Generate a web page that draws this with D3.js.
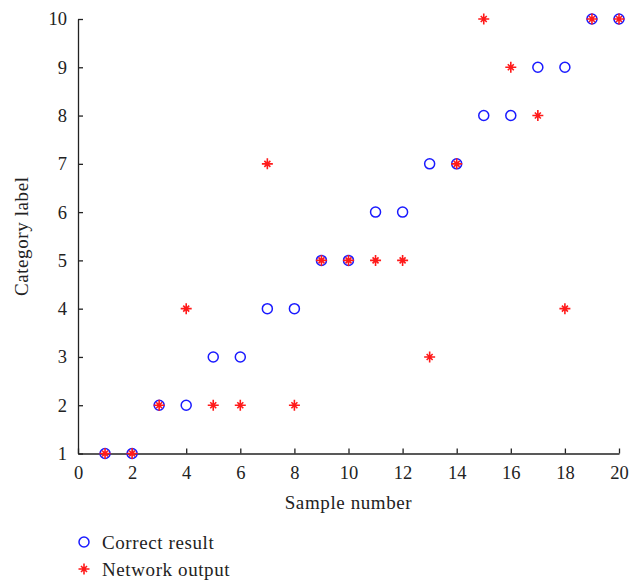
<!DOCTYPE html>
<html>
<head>
<meta charset="utf-8">
<script src="https://cdn.jsdelivr.net/npm/d3@7"></script>
<style>
  html, body { margin: 0; padding: 0; background: #fff; }
  svg { display: block; }
  text { font-family: "Liberation Serif", "DejaVu Serif", serif; fill: #222; }
</style>
</head>
<body>
<svg id="chart" width="631" height="582"></svg>
<script>
// Sample index 1..20
const samples = [1,2,3,4,5,6,7,8,9,10,11,12,13,14,15,16,17,18,19,20];
// Expected class of each sample
const correctResult = [1,1,2,2,3,3,4,4,5,5,6,6,7,7,8,8,9,9,10,10];
// Class predicted by the network
const networkOutput = [1,1,2,4,2,2,7,2,5,5,5,5,3,7,10,9,8,4,10,10];
const xTicks = [0,2,4,6,8,10,12,14,16,18,20];
const yTicks = [1,2,3,4,5,6,7,8,9,10];

const svg = d3.select("#chart");
const plotLeft = 78, plotRight = 619, plotTop = 19, plotBottom = 453.5;
const labelFont = 19, tickFont = 18.5;

const x = d3.scaleLinear().domain([0, 20]).range([plotLeft, plotRight]);
const y = d3.scaleLinear().domain([1, 10]).range([plotBottom, plotTop]);

// Axes with inward-pointing ticks
const xAxis = d3.axisBottom(x).tickValues(xTicks).tickSizeInner(-5).tickSizeOuter(0).tickPadding(12);
const yAxis = d3.axisLeft(y).tickValues(yTicks).tickSizeInner(-5).tickSizeOuter(0).tickPadding(12);

const gx = svg.append("g").attr("transform", `translate(0,${plotBottom})`).call(xAxis);
const gy = svg.append("g").attr("transform", `translate(${plotLeft},0)`).call(yAxis);
[gx, gy].forEach(g => {
  g.select(".domain").attr("stroke", "#222").attr("stroke-width", 1.3);
  g.selectAll(".tick line").attr("stroke", "#222").attr("stroke-width", 1.3);
  g.selectAll(".tick text").attr("font-size", tickFont).attr("fill", "#222")
    .attr("font-family", '"Liberation Serif", "DejaVu Serif", serif');
});
gx.selectAll(".tick text").attr("dy", "0.71em").attr("y", 12);
gy.selectAll(".tick text").attr("x", -11);

// Axis titles
svg.append("text").attr("x", (plotLeft + plotRight) / 2).attr("y", 509)
  .attr("text-anchor", "middle").attr("font-size", labelFont)
  .attr("letter-spacing", 0.6).text("Sample number");
svg.append("text").attr("transform", `translate(28,${(plotTop + plotBottom) / 2}) rotate(-90)`)
  .attr("text-anchor", "middle").attr("font-size", labelFont)
  .attr("letter-spacing", 0.6).text("Category label");

// Star marker path (plus + short diagonals)
function starPath(cx, cy) {
  const a = 5.5, d = 3;
  return `M${cx - a},${cy}L${cx + a},${cy}M${cx},${cy - a}L${cx},${cy + a}` +
         `M${cx - d},${cy - d}L${cx + d},${cy + d}M${cx - d},${cy + d}L${cx + d},${cy - d}`;
}

const plot = svg.append("g");
plot.selectAll("circle.correct").data(samples).enter().append("circle")
  .attr("class", "correct")
  .attr("cx", (s) => x(s))
  .attr("cy", (s, i) => y(correctResult[i]))
  .attr("r", 5)
  .attr("fill", "none").attr("stroke", "#1a1aff").attr("stroke-width", 1.5);

plot.selectAll("path.net").data(samples).enter().append("path")
  .attr("class", "net")
  .attr("d", (s, i) => starPath(x(s), y(networkOutput[i])))
  .attr("fill", "none").attr("stroke", "#ff1a1a").attr("stroke-width", 1.6);

// Legend
const legend = svg.append("g");
legend.append("circle").attr("cx", 84).attr("cy", 542).attr("r", 5)
  .attr("fill", "none").attr("stroke", "#1a1aff").attr("stroke-width", 1.5);
legend.append("text").attr("x", 102).attr("y", 549).attr("font-size", labelFont)
  .attr("letter-spacing", 0.6).text("Correct result");
legend.append("path").attr("d", starPath(84, 569))
  .attr("fill", "none").attr("stroke", "#ff1a1a").attr("stroke-width", 1.6);
legend.append("text").attr("x", 102).attr("y", 576).attr("font-size", labelFont)
  .attr("letter-spacing", 0.6).text("Network output");
</script>
</body>
</html>
